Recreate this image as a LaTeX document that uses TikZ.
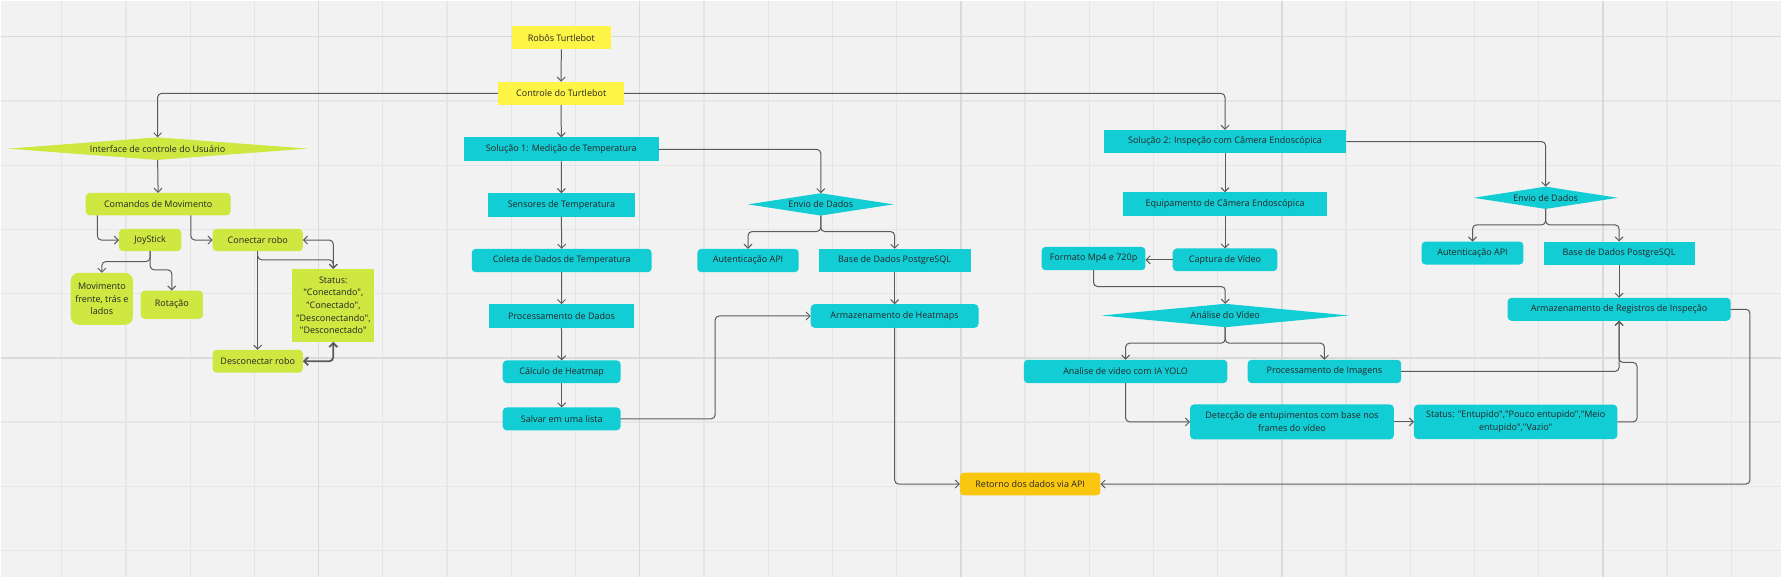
\documentclass[tikz,border=0pt]{standalone}
\usepackage{fontspec}
\setmainfont{Open Sans}[Ligatures=TeXOff]
\usetikzlibrary{arrows.meta,calc}
\pgfdeclarelayer{gridlayer}
\pgfdeclarelayer{bglayer}
\pgfsetlayers{gridlayer,bglayer,main}
\definecolor{bgc}{HTML}{F2F2F2}
\definecolor{gridminor}{HTML}{E6E6E6}
\definecolor{gridmajor}{HTML}{DADADA}
\definecolor{cyanm}{HTML}{12CDD4}
\definecolor{limem}{HTML}{CEE741}
\definecolor{yellm}{HTML}{FEF445}
\definecolor{orangem}{HTML}{FAC710}
\definecolor{linec}{HTML}{5A5A5A}
\definecolor{txtc}{HTML}{262626}
\newcommand\mydiamondfill[2]{%
  \begin{pgfonlayer}{bglayer}
    \fill[#2] (#1.west) -- (#1.north) -- (#1.east) -- (#1.south) -- cycle;
  \end{pgfonlayer}}
\begin{document}
\begin{tikzpicture}[x=1pt,y=-1pt,
  >={Straight Barb[length=4pt,width=8pt]},
  sz/.style 2 args={minimum width=#1pt, minimum height=#2pt},
  basebox/.style={inner sep=1pt, outer sep=0pt, text=txtc,
    font=\fontsize{9}{12.6}\selectfont, align=center},
  csharp/.style={basebox, fill=cyanm},
  cround/.style={basebox, fill=cyanm, rounded corners=4pt},
  lsharp/.style={basebox, fill=limem},
  lround/.style={basebox, fill=limem, rounded corners=4pt},
  ysharp/.style={basebox, fill=yellm},
  oround/.style={basebox, fill=orangem, rounded corners=4pt},
  dtext/.style={basebox},
  edge/.style={draw=linec, line width=1pt, rounded corners=4pt, ->},
  biedge/.style={draw=linec, line width=1pt, rounded corners=4pt, <->},
]
% background grid
\begin{pgfonlayer}{gridlayer}
  \fill[bgc] (0,0) rectangle (1782,577);
  \foreach \i in {1,...,27} {
    \pgfmathsetmacro{\xx}{-3.1+64.26*\i}
    \draw[gridminor, line width=1.2pt] (\xx,0) -- (\xx,577);
  }
  \foreach \i in {0,...,8} {
    \pgfmathsetmacro{\yy}{36+64.26*\i}
    \draw[gridminor, line width=1.2pt] (0,\yy) -- (1782,\yy);
  }
  \foreach \i in {1,...,5} {
    \pgfmathsetmacro{\xx}{-3.1+321.3*\i}
    \draw[gridmajor, line width=1.5pt] (\xx,0) -- (\xx,577);
  }
  \foreach \yy in {36,357.3} {
    \draw[gridmajor, line width=1.5pt] (0,\yy) -- (1782,\yy);
  }
\end{pgfonlayer}
\useasboundingbox (0,0) rectangle (1782,577);

% top
\node[ysharp, sz={99}{23.7}] (robos) at (561,36.9) {Robôs Turtlebot};
\node[ysharp, sz={126}{23.3}] (controle) at (560.9,92.7) {Controle do Turtlebot};

% left branch
\node[dtext, sz={300.6}{22.6}] (iface) at (157,148) {Interface de controle do Usuário};
\mydiamondfill{iface}{limem}
\node[lround, sz={145}{22.4}] (comandos) at (157.5,203.5) {Comandos de Movimento};
\node[lround, sz={62.4}{22.4}] (joy) at (149.5,239.5) {JoyStick};
\node[lround, sz={90.3}{22.4}] (conectar) at (257.2,239.5) {Conectar robo};
\node[basebox, fill=limem, rounded corners=8pt, sz={62.3}{52}] (movim) at (101.2,298.3) {Movimento\\frente, trás e\\lados};
\node[lround, sz={62.3}{28.3}] (rotacao) at (171.2,304.2) {Rotação};
\node[lsharp, sz={82.3}{73}] (status) at (332.8,304.8) {Status:\\"Conectando",\\"Conectado",\\"Desconectando",\\"Desconectado"};
\node[lround, sz={90.3}{23}] (descon) at (257.2,360.8) {Desconectar robo};

% solution 1
\node[csharp, sz={195}{24}] (sol1) at (561,148.7) {Solução 1: Medição de Temperatura};
\node[csharp, sz={146.4}{23.3}] (sensores) at (561.1,204.3) {Sensores de Temperatura};
\node[cround, sz={180}{23.4}] (coleta) at (561.4,260) {Coleta de Dados de Temperatura};
\node[csharp, sz={144.7}{23.6}] (procdados) at (561.2,315.5) {Processamento de Dados};
\node[cround, sz={118}{22.7}] (calculo) at (561.4,371.3) {Cálculo de Heatmap};
\node[cround, sz={118}{23}] (salvar) at (561.4,418.5) {Salvar em uma lista};
\node[dtext, sz={145.7}{22.3}] (envio1) at (820.7,203.8) {Envio de Dados};
\mydiamondfill{envio1}{cyanm}
\node[cround, sz={101.5}{23.4}] (auth1) at (747.9,260) {Autenticação API};
\node[csharp, sz={152}{23.4}] (base1) at (894.6,260) {Base de Dados PostgreSQL};
\node[cround, sz={168}{23.6}] (armheat) at (894.6,315.5) {Armazenamento de Heatmaps};
\node[oround, sz={140.7}{22.7}] (retorno) at (1030.3,483.7) {Retorno dos dados via API};

% solution 2
\node[csharp, sz={242.7}{23.4}] (sol2) at (1225.3,141) {Solução 2: Inspeção com Câmera Endoscópica};
\node[csharp, sz={204}{23.6}] (equip) at (1225.3,203.5) {Equipamento de Câmera Endoscópica};
\node[cround, sz={104.7}{22.7}] (captura) at (1225.3,259.3) {Captura de Vídeo};
\node[cround, sz={104}{23.4}] (formato) at (1093.7,258) {Formato Mp4 e 720p};
\node[dtext, sz={247.6}{23.4}] (analise) at (1225.5,315) {Análise do Vídeo};
\mydiamondfill{analise}{cyanm}
\node[cround, sz={203.7}{23.4}] (yolo) at (1125.8,371) {Analise de video com IA YOLO};
\node[cround, sz={153.7}{23.4}] (procimg) at (1324.8,371) {Processamento de Imagens};
\node[cround, sz={204}{35}] (deteccao) at (1292.3,421.5) {Detecção de entupimentos com base nos\\frames do vídeo};
\node[cround, sz={203.7}{34.4}] (status2) at (1516.2,421.5) {Status: "Entupido","Pouco entupido","Meio\\entupido","Vazio"};
\node[dtext, sz={144.3}{22.3}] (envio2) at (1546.2,197.2) {Envio de Dados};
\mydiamondfill{envio2}{cyanm}
\node[cround, sz={102}{23}] (auth2) at (1473,252.5) {Autenticação API};
\node[csharp, sz={151.3}{23}] (base2) at (1619.7,252.5) {Base de Dados PostgreSQL};
\node[cround, sz={223.3}{23}] (armreg) at (1619.7,308.8) {Armazenamento de Registros de Inspeção};

% connectors: top
\draw[edge] (robos.south) -- (controle.north);
\draw[edge] (controle.west) -| (iface.north);
\draw[edge] (controle.east) -| (sol2.north);
\draw[edge] (controle.south) -- (sol1.north);

% connectors: left
\draw[edge] (iface.south) -- (comandos.north);
\draw[edge] (96.7,0 |- comandos.south) |- (joy.west);
\draw[edge] (190.3,0 |- comandos.south) |- (conectar.west);
\draw[edge] (joy.south) |- (movim.north |- 0,261) -- (movim.north);
\draw[edge] (joy.south) |- (rotacao.north |- 0,269.3) -- (rotacao.north);
\draw[edge] (conectar.south) -- (descon.north);
\draw[edge] (conectar.south) |- (status.north |- 0,259.3) -- (status.north);
\draw[biedge] (conectar.east) -| (status.north);
\draw[biedge, line width=1.8pt] (descon.east) -| (status.south);

% connectors: solution 1
\draw[edge] (sol1.south) -- (sensores.north);
\draw[edge] (sensores.south) -- (coleta.north);
\draw[edge] (coleta.south) -- (procdados.north);
\draw[edge] (procdados.south) -- (calculo.north);
\draw[edge] (calculo.south) -- (salvar.north);
\draw[edge] (sol1.east) -| (envio1.north);
\draw[edge] (envio1.south) |- (auth1.north |- 0,231) -- (auth1.north);
\draw[edge] (envio1.south) |- (base1.north |- 0,231) -- (base1.north);
\draw[edge] (base1.south) -- (armheat.north);
\draw[edge] (salvar.east) -| (715,0 |- armheat.west) -- (armheat.west);
\draw[edge] (armheat.south) |- (retorno.west);

% connectors: solution 2
\draw[edge] (sol2.south) -- (equip.north);
\draw[edge] (equip.south) -- (captura.north);
\draw[edge] (captura.west) -- (captura.west -| formato.east);
\draw[edge] (formato.south) |- (analise.north |- 0,286) -- (analise.north);
\draw[edge] (analise.south) |- (yolo.north |- 0,342.7) -- (yolo.north);
\draw[edge] (analise.south) |- (procimg.north |- 0,342.7) -- (procimg.north);
\draw[edge] (yolo.south) |- (deteccao.west);
\draw[edge] (deteccao.east) -- (status2.west);
\draw[edge] (status2.east) -| (1637.7,362) -| (armreg.south);
\draw[edge] (procimg.east) -| (armreg.south);
\draw[edge] (sol2.east) -| (envio2.north);
\draw[edge] (envio2.south) |- (auth2.north |- 0,224.3) -- (auth2.north);
\draw[edge] (envio2.south) |- (base2.north |- 0,224.3) -- (base2.north);
\draw[edge] (base2.south) -- (armreg.north);
\draw[edge] (armreg.east) -| (1750.7,0 |- retorno.east) -- (retorno.east);
\end{tikzpicture}
\end{document}
